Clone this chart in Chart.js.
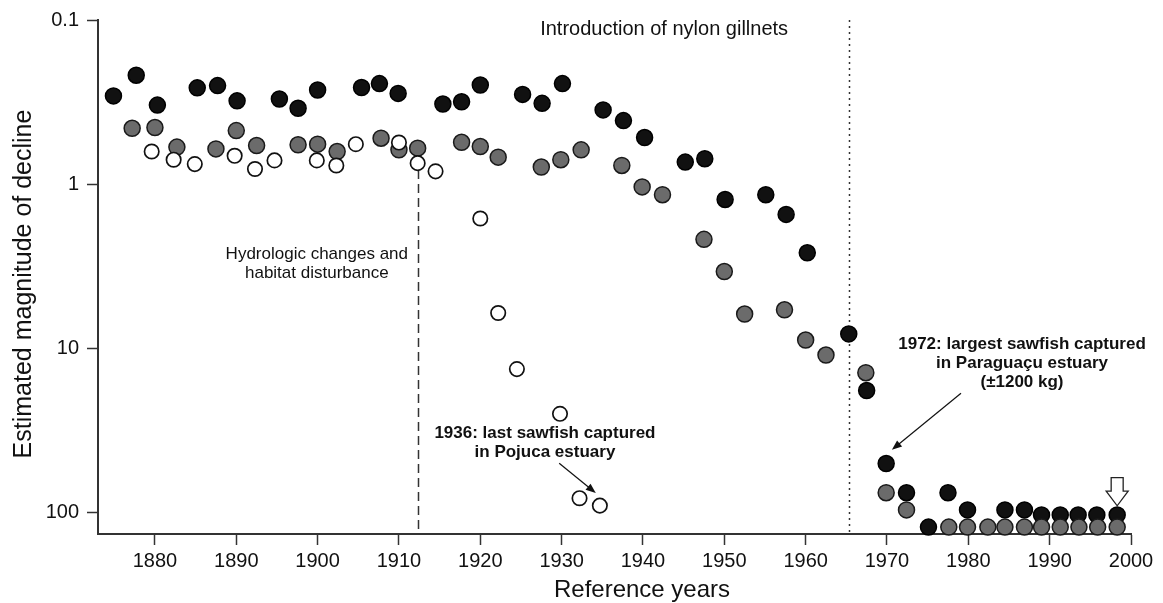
<!DOCTYPE html>
<html>
<head>
<meta charset="utf-8">
<title>Estimated magnitude of decline</title>
<script src="https://cdn.jsdelivr.net/npm/chart.js@4.4.1/dist/chart.umd.min.js"></script>
<style>
    html, body { margin: 0; padding: 0; background: #fff; }
</style>
</head>
<body>
<canvas id="chart" width="1163" height="603"></canvas>
<script>
// Black dots
var blackYears = [1874.9, 1877.7, 1880.3, 1885.2, 1887.7, 1890.1, 1895.3, 1897.6, 1900.0, 1905.4,
    1907.6, 1909.9, 1915.4, 1917.7, 1920.0, 1925.2, 1927.6, 1930.1, 1935.1, 1937.6,
    1940.2, 1945.2, 1947.6, 1950.1, 1955.1, 1957.6, 1960.2, 1965.3, 1967.5, 1969.9,
    1972.4, 1975.1, 1977.5, 1979.9, 1984.5, 1986.9, 1989.0, 1991.3, 1993.5, 1995.8, 1998.3];
var blackValues = [0.29, 0.217, 0.33, 0.259, 0.251, 0.311, 0.303, 0.345, 0.267, 0.258,
    0.244, 0.28, 0.325, 0.315, 0.249, 0.284, 0.322, 0.244, 0.353, 0.41,
    0.52, 0.734, 0.70, 1.24, 1.16, 1.53, 2.62, 8.18, 18.1, 50.4,
    75.9, 123, 75.9, 96.6, 96.6, 96.6, 103.7, 103.7, 103.7, 103.7, 103.7];

// Grey dots
var greyYears = [1877.2, 1880.0, 1882.7, 1887.5, 1890.0, 1892.5, 1897.6, 1900.0, 1902.4, 1907.8,
    1910.0, 1912.3, 1917.7, 1920.0, 1922.2, 1927.5, 1929.9, 1932.4, 1937.4, 1939.9,
    1942.4, 1947.5, 1950.0, 1952.5, 1957.4, 1960.0, 1962.5, 1967.4, 1969.9, 1972.4,
    1977.6, 1979.9, 1982.4, 1984.5, 1986.9, 1989.0, 1991.3, 1993.6, 1995.9, 1998.3];
var greyValues = [0.457, 0.452, 0.595, 0.61, 0.472, 0.582, 0.576, 0.571, 0.633, 0.525,
    0.618, 0.604, 0.556, 0.59, 0.685, 0.787, 0.71, 0.618, 0.77, 1.04,
    1.16, 2.17, 3.41, 6.19, 5.83, 8.91, 11.0, 14.1, 75.9, 96.6,
    123, 123, 123, 123, 123, 123, 123, 123, 123, 123];

// Open dots
var openYears = [1879.6, 1882.3, 1884.9, 1889.8, 1892.3, 1894.7, 1899.9, 1902.3, 1904.7,
    1910.0, 1912.3, 1914.5, 1920.0, 1922.2, 1924.5, 1929.8, 1932.2, 1934.7];
var openValues = [0.633, 0.71, 0.755, 0.672, 0.809, 0.717, 0.717, 0.77, 0.571,
    0.558, 0.745, 0.836, 1.62, 6.1, 13.4, 25.1, 82, 91];

var xTicks = [1880, 1890, 1900, 1910, 1920, 1930, 1940, 1950, 1960, 1970, 1980, 1990, 2000];
var yTicks = [0.1, 1, 10, 100];

// Events marked on the chart
var hydroYear = 1912.3;
var nylonYear = 1965.3;

var FONT = '"Liberation Sans", Arial, Helvetica, sans-serif';
var INK = '#111';

function toPoints(xs, ys) {
    return xs.map(function (x, i) {
        return {x: x, y: ys[i]};
    });
}

function arrow(ctx, x1, y1, x2, y2) {
    var a = Math.atan2(y2 - y1, x2 - x1);
    var len = 10, half = 4;
    ctx.beginPath();
    ctx.moveTo(x1, y1);
    ctx.lineTo(x2 - Math.cos(a) * len * 0.8, y2 - Math.sin(a) * len * 0.8);
    ctx.stroke();
    ctx.beginPath();
    ctx.moveTo(x2, y2);
    ctx.lineTo(x2 - Math.cos(a) * len + Math.sin(a) * half, y2 - Math.sin(a) * len - Math.cos(a) * half);
    ctx.lineTo(x2 - Math.cos(a) * len - Math.sin(a) * half, y2 - Math.sin(a) * len + Math.cos(a) * half);
    ctx.closePath();
    ctx.fill();
}

/**
 * Reference lines, notes and axis titles.
 */
var notesPlugin = {
    id: 'notes',
    beforeDatasetsDraw: function (chart) {
        var ctx = chart.ctx, xs = chart.scales.x, ys = chart.scales.y, area = chart.chartArea;
        ctx.save();
        ctx.strokeStyle = '#333';
        ctx.lineWidth = 1.5;

        var hx = Math.round(xs.getPixelForValue(hydroYear)) + 0.5;
        ctx.setLineDash([9, 5]);
        ctx.beginPath();
        ctx.moveTo(hx, ys.getPixelForValue(0.82));
        ctx.lineTo(hx, area.bottom);
        ctx.stroke();

        var nx = Math.round(xs.getPixelForValue(nylonYear)) + 0.5;
        ctx.setLineDash([2, 4]);
        ctx.beginPath();
        ctx.moveTo(nx, area.top);
        ctx.lineTo(nx, area.bottom);
        ctx.stroke();
        ctx.restore();
    },
    afterDatasetsDraw: function (chart) {
        var ctx = chart.ctx, xs = chart.scales.x, ys = chart.scales.y;
        var px = function (v) { return xs.getPixelForValue(v); };
        var py = function (v) { return ys.getPixelForValue(v); };
        ctx.save();
        ctx.fillStyle = INK;
        ctx.strokeStyle = INK;
        ctx.textAlign = 'center';
        ctx.textBaseline = 'middle';

        ctx.font = '20px ' + FONT;
        ctx.fillText('Introduction of nylon gillnets', px(1942.6), py(0.1135));

        ctx.font = '17px ' + FONT;
        ctx.fillText('Hydrologic changes and', px(1899.9), py(2.66));
        ctx.fillText('habitat disturbance', px(1899.9), py(2.66) + 19);

        ctx.font = 'bold 17px ' + FONT;
        ctx.fillText('1936: last sawfish captured', px(1927.95), py(33.2));
        ctx.fillText('in Pojuca estuary', px(1927.95), py(33.2) + 19);

        ctx.fillText('1972: largest sawfish captured', px(1986.6), py(9.53));
        ctx.fillText('in Paragua\u00e7u estuary', px(1986.6), py(9.53) + 19);
        ctx.fillText('(\u00b11200 kg)', px(1986.6), py(9.53) + 38);

        ctx.lineWidth = 1.2;
        arrow(ctx, px(1929.7), py(50.2), px(1934.2), py(76.3));
        arrow(ctx, px(1979.1), py(18.8), px(1970.6), py(41.6));

        // open arrow above the last year
        var ax = px(1998.3), top = py(61.5), tip = py(91.2);
        ctx.beginPath();
        ctx.moveTo(ax - 6, top);
        ctx.lineTo(ax + 6, top);
        ctx.lineTo(ax + 6, top + 13.5);
        ctx.lineTo(ax + 11, top + 13.5);
        ctx.lineTo(ax, tip);
        ctx.lineTo(ax - 11, top + 13.5);
        ctx.lineTo(ax - 6, top + 13.5);
        ctx.closePath();
        ctx.fillStyle = '#fff';
        ctx.fill();
        ctx.lineWidth = 1.3;
        ctx.strokeStyle = '#222';
        ctx.stroke();

        // axis titles
        ctx.fillStyle = INK;
        ctx.font = '24px ' + FONT;
        ctx.fillText('Reference years', 642, 590);
        ctx.font = '25px ' + FONT;
        ctx.translate(24, 284);
        ctx.rotate(-Math.PI / 2);
        ctx.fillText('Estimated magnitude of decline', 0, 0);
        ctx.restore();
    }
};

var tickFont = {family: FONT, size: 20};

new Chart(document.getElementById('chart'), {
    type: 'scatter',
    data: {
        datasets: [
            {
                label: 'open',
                data: toPoints(openYears, openValues),
                backgroundColor: '#ffffff',
                borderColor: '#111',
                borderWidth: 1.7,
                pointRadius: 7.2,
                pointHoverRadius: 7.2,
                clip: false
            },
            {
                label: 'grey',
                data: toPoints(greyYears, greyValues),
                backgroundColor: '#6b6b6b',
                borderColor: '#1a1a1a',
                borderWidth: 1.5,
                pointRadius: 8,
                pointHoverRadius: 8,
                clip: false
            },
            {
                label: 'black',
                data: toPoints(blackYears, blackValues),
                backgroundColor: '#111',
                borderColor: '#000',
                borderWidth: 1.5,
                pointRadius: 8,
                pointHoverRadius: 8,
                clip: false
            }
        ]
    },
    options: {
        responsive: false,
        animation: false,
        events: [],
        layout: {padding: {top: 20, right: 32, bottom: 0, left: 0}},
        plugins: {
            legend: {display: false},
            tooltip: {enabled: false}
        },
        scales: {
            x: {
                type: 'linear',
                min: 1873,
                max: 2000,
                afterBuildTicks: function (scale) {
                    scale.ticks = xTicks.map(function (v) { return {value: v}; });
                },
                afterFit: function (scale) {
                    scale.height = 69;
                },
                grid: {drawOnChartArea: false, tickLength: 11, tickColor: '#333', tickWidth: 1.5},
                border: {color: '#333', width: 2},
                ticks: {
                    font: tickFont,
                    color: INK,
                    padding: 4,
                    maxRotation: 0,
                    autoSkip: false,
                    callback: function (v) { return String(v); }
                }
            },
            y: {
                type: 'logarithmic',
                reverse: true,
                min: 0.1,
                max: 135.5,
                afterBuildTicks: function (scale) {
                    scale.ticks = yTicks.map(function (v) { return {value: v}; });
                },
                afterFit: function (scale) {
                    scale.width = 98;
                },
                grid: {drawOnChartArea: false, tickLength: 11, tickColor: '#333', tickWidth: 1.5},
                border: {color: '#333', width: 2},
                ticks: {
                    font: tickFont,
                    color: INK,
                    padding: 8,
                    autoSkip: false,
                    callback: function (v) { return String(v); }
                }
            }
        }
    },
    plugins: [notesPlugin]
});
</script>
</body>
</html>
